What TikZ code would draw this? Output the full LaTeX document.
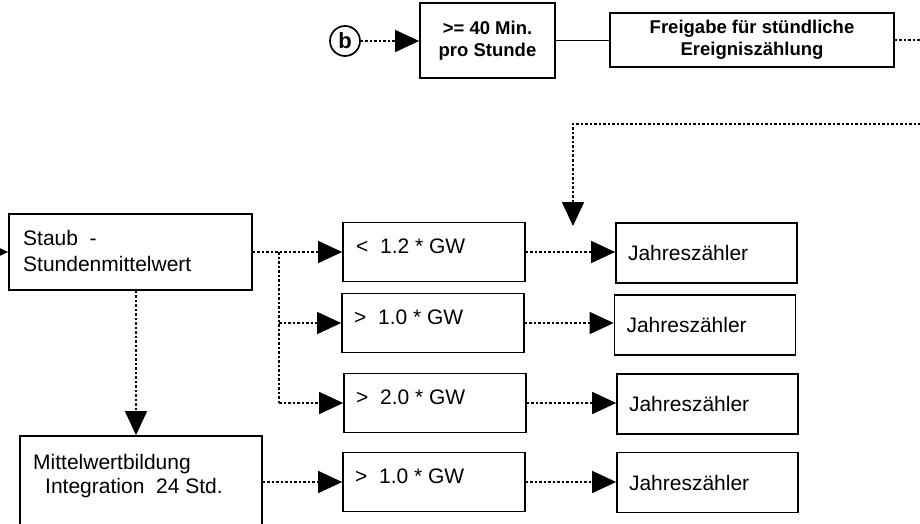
\documentclass[tikz,border=0pt]{standalone}
\usepackage{fontspec}
\setmainfont{Liberation Sans}
\usetikzlibrary{arrows.meta}
\begin{document}
\begin{tikzpicture}[x=1pt,y=-1pt,
  box/.style={draw, line width=1.7pt, inner sep=0pt},
  txt/.style={inner sep=0pt, font=\fontsize{21}{26}\selectfont},
  btxt/.style={align=center, font=\fontsize{18.5}{22}\selectfont\bfseries},
  flow/.style={line width=1.5pt, dash pattern=on 2.5pt off 2pt},
  solidline/.style={line width=1.8pt},
  tip/.style={-{Triangle[length=24pt,width=22pt]}},
  gate/.style={box, minimum width=182pt, minimum height=59pt},
  counter/.style={box, txt, text width=157pt, inner xsep=12pt, minimum height=60pt, align=left},
]
\useasboundingbox (0,0) rectangle (920,524);

% hourly release chain
\node[circle, draw, line width=1.7pt, minimum size=30pt, inner sep=0pt,
      font=\fontsize{22}{22}\selectfont\bfseries] (b) at (345,41) {b};
\node[box, btxt, minimum width=135pt, minimum height=75pt] (min) at (487.5,40.5) {>= 40 Min.\\pro Stunde};
\node[box, btxt, minimum width=284pt, minimum height=54pt] (rel) at (752,40) {Freigabe für stündliche\\Ereigniszählung};
\coordinate (out1) at (925,40);
\coordinate (in1) at (925,124);
\coordinate (bend) at (573,124);
\coordinate (drop) at (573,226);

% hourly dust value
\node[box, minimum width=243pt, minimum height=76pt] (S) at (130.5,252) {};
\node[txt, anchor=base west] (S-t1) at (23,245) {Staub\ \ -};
\node[txt, anchor=base west] (S-t2) at (23,271) {Stundenmittelwert};
\coordinate (feed) at (-40,252);

% 24 h averaging
\node[box, minimum width=242pt, minimum height=109pt] (M) at (141,490.5) {};
\node[txt, anchor=base west] (M-t1) at (33,469) {Mittelwertbildung};
\node[txt, anchor=base west] (M-t2) at (45,493) {Integration\ \ 24 Std.};

% threshold gates
\node[gate] (A) at (434,252) {};
\node[txt, anchor=base west] (A-t) at (356,253) {<\ \ 1.2 * GW};
\node[gate] (B) at (433,323) {};
\node[txt, anchor=base west] (B-t) at (354,324) {>\ \ 1.0 * GW};
\node[gate] (C) at (435,403) {};
\node[txt, anchor=base west] (C-t) at (356,404) {>\ \ 2.0 * GW};
\node[gate] (D) at (434,482) {};
\node[txt, anchor=base west] (D-t) at (355,483) {>\ \ 1.0 * GW};

% yearly counters
\node[counter] (J1) at (706.5,253) {Jahreszähler};
\node[counter] (J2) at (705,325) {Jahreszähler};
\node[counter] (J3) at (707.5,404) {Jahreszähler};
\node[counter] (J4) at (707.5,482.5) {Jahreszähler};

% connectors
\draw[flow, tip] (b.east) -- (b.east -| min.west);
\draw[solidline] (min.east) -- (min.east -| rel.west);
\draw[flow] (rel.east) -- (out1);
\draw[flow, tip] (in1) -- (bend) -- (drop);

\draw[flow, tip] (feed) -- (S.west);
\draw[flow, tip] (S.east) -- (A.west);
\coordinate (fork) at (279,252);
\draw[flow] (fork) -- (fork |- C.west);
\draw[flow, tip] (fork |- B.west) -- (B.west);
\draw[flow, tip] (fork |- C.west) -- (C.west);
\draw[flow, tip] ([xshift=5.5pt]S.south) -- ([xshift=-5pt]M.north);
\draw[flow, tip] (D.west -| M.east) -- (D.west);

\draw[flow, tip] (A.east) -- (A.east -| J1.west);
\draw[flow, tip] (B.east) -- (B.east -| J2.west);
\draw[flow, tip] (C.east) -- (C.east -| J3.west);
\draw[flow, tip] (D.east) -- (D.east -| J4.west);
\end{tikzpicture}
\end{document}
